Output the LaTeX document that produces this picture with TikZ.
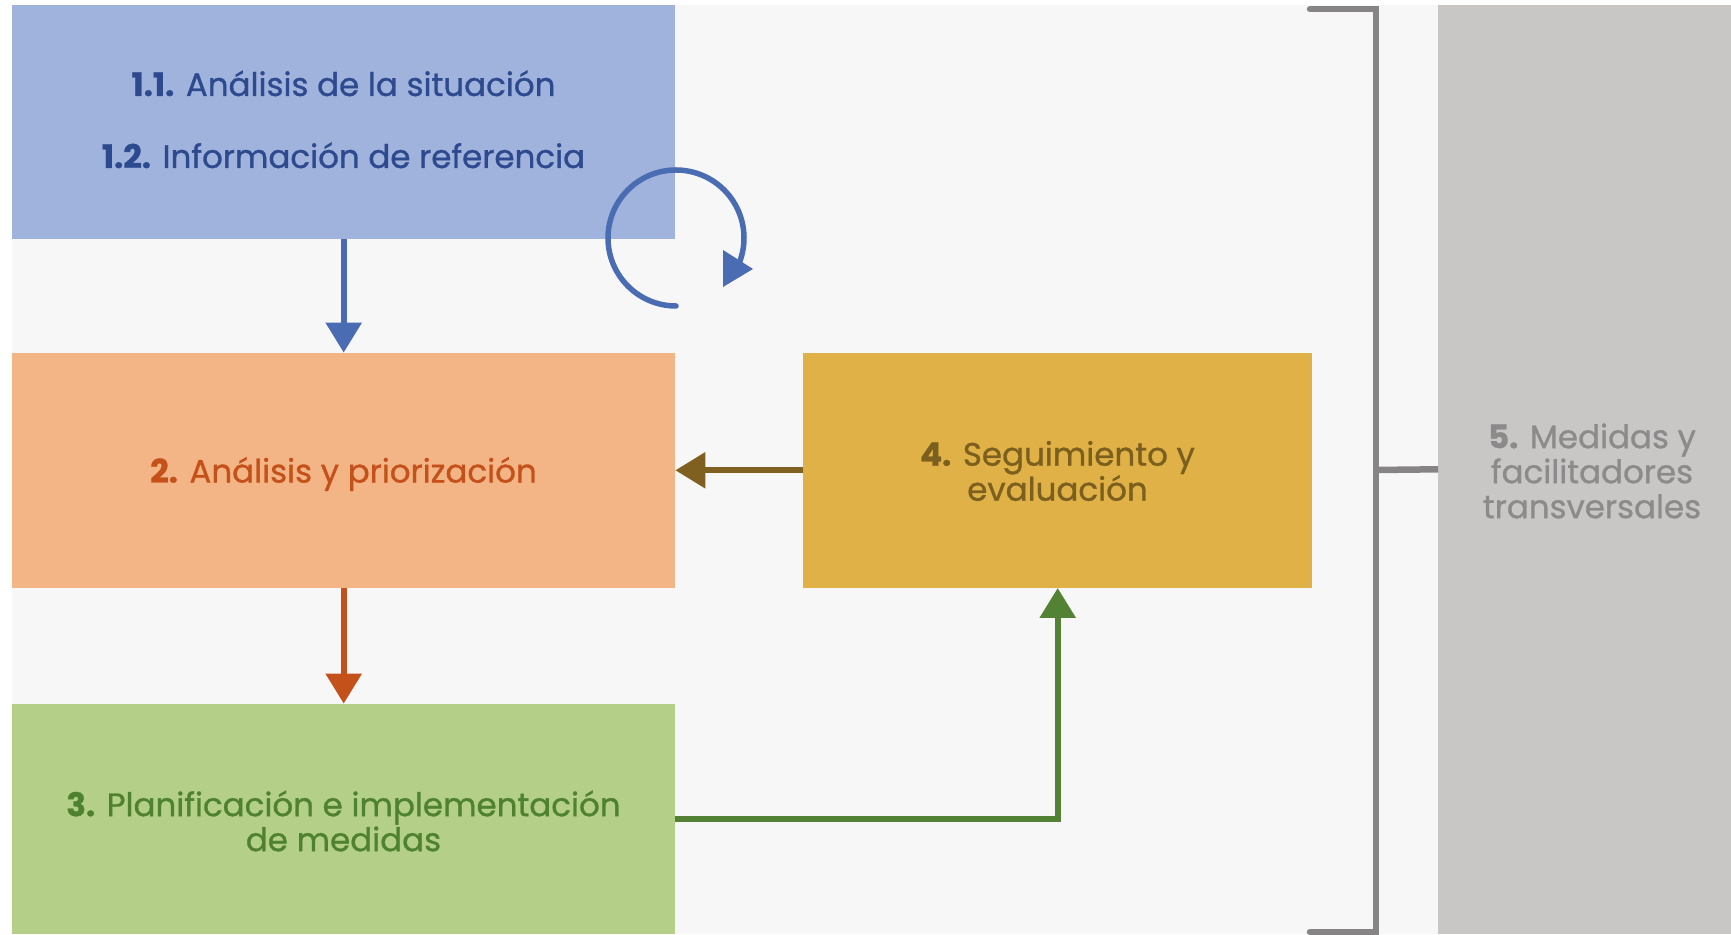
\documentclass[tikz,border=0pt]{standalone}
\usepackage{fontspec}
\setmainfont{Poppins}[FakeBold=0.9]
\usetikzlibrary{arrows.meta}
\definecolor{bgc}{HTML}{F7F7F7}
\definecolor{bluefill}{HTML}{A0B3DC}
\definecolor{bluetext}{HTML}{2E4A8F}
\definecolor{blueline}{HTML}{4A6CB3}
\definecolor{orfill}{HTML}{F4B586}
\definecolor{ortext}{HTML}{C5511A}
\definecolor{grfill}{HTML}{B3CF88}
\definecolor{grtext}{HTML}{4F8230}
\definecolor{grline}{HTML}{548235}
\definecolor{yefill}{HTML}{E0B146}
\definecolor{yetext}{HTML}{7B5F1E}
\definecolor{brline}{HTML}{7F6021}
\definecolor{gyfill}{HTML}{C8C7C5}
\definecolor{gytext}{HTML}{8C8A8A}
\definecolor{gyline}{HTML}{878485}
\tikzset{
  box/.style={draw=none, inner sep=0pt, anchor=south west},
  lbl/.style={inner sep=0pt, align=center, font=\fontsize{32.5}{35}\selectfont},
  flow/.style={line width=6pt, -{Triangle[length=30pt,width=35pt]}},
  brk/.style={gyline, line width=6.5pt, line cap=round}
}
\begin{document}
\begin{tikzpicture}[x=1pt,y=1pt]
\useasboundingbox (0,0) rectangle (1731,934);
\fill[white] (0,0) rectangle (1731,934);
\fill[bgc] (12,0) rectangle (1731,929);
% boxes
\node[box, fill=bluefill, minimum width=663pt, minimum height=234pt] (b1) at (12,695) {};
\node[box, fill=orfill, minimum width=663pt, minimum height=235pt] (b2) at (12,346) {};
\node[box, fill=grfill, minimum width=663pt, minimum height=230pt] (b3) at (12,0) {};
\node[box, fill=yefill, minimum width=509pt, minimum height=235pt] (b4) at (803,346) {};
\node[box, fill=gyfill, minimum width=293pt, minimum height=929pt] (b5) at (1438,0) {};
% labels
\node[lbl, text=bluetext, anchor=base] (t11) at (343.5,838) {\textbf{1.1.} Análisis de la situación};
\node[lbl, text=bluetext, anchor=base] (t12) at (343.5,766) {\textbf{1.2.} Información de referencia};
\node[lbl, text=ortext] (t2) at (343.5,460) {\textbf{2.} Análisis y priorización};
\node[lbl, text=grtext] (t3) at (343.5,113) {\textbf{3.} Planificación e implementación\\de medidas};
\node[lbl, text=yetext] (t4) at (1057.5,463) {\textbf{4.} Seguimiento y\\evaluación};
\node[lbl, text=gytext] (t5) at (1592,463) {\textbf{5.} Medidas y\\facilitadores\\transversales};
% flow arrows
\draw[flow, blueline] (b1.south) -- (b2.north);
\draw[flow, ortext] (b2.south) -- (b3.north);
\draw[flow, brline] (b4.west) -- (b2.east);
\draw[flow, grline] (b3.east) -| (b4.south);
% cycle arrow
\coordinate (cyc) at (676,696);
\draw[blueline, line width=5.5pt, line cap=round] ([yshift=-68pt]cyc) arc[start angle=270, end angle=-22, radius=68pt];
\fill[blueline] (723,684) -- (753,665) -- (723,647) -- cycle;
% bracket
\coordinate (bm) at (1376,464);
\draw[brk, line join=miter] (1310,925) -- (1376,925) -- (1376,2) -- (1310,2);
\draw[brk, line cap=butt] (bm) -- (b5.west);
\end{tikzpicture}
\end{document}
